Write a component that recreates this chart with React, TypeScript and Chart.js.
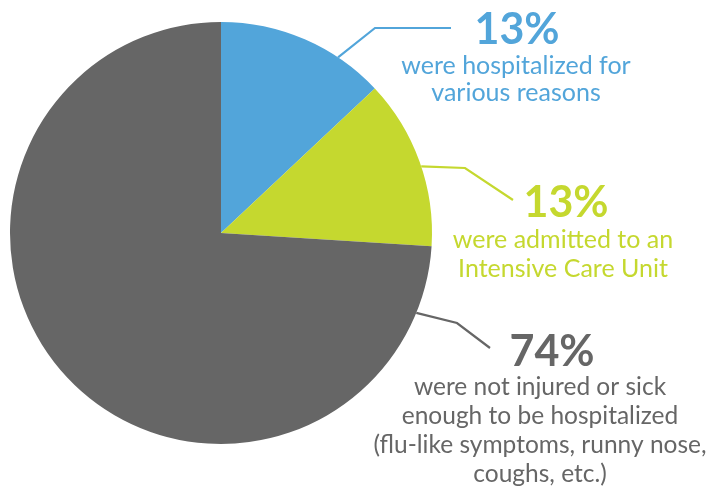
import React, { useEffect, useRef } from "react";
import { Chart, registerables } from "chart.js";

Chart.register(...registerables);

const categories = ["Hospitalized", "ICU", "Not hospitalized"];
const values = [13, 13, 74];
const colors = ["#52A5DA", "#C5D82F", "#666666"];
const percentLabels = ["13%", "13%", "74%"];
const descriptions = [
  ["were hospitalized for", "various reasons"],
  ["were admitted to an", "Intensive Care Unit"],
  ["were not injured or sick", "enough to be hospitalized", "(flu-like symptoms, runny nose,", "coughs, etc.)"],
];

// annotation layout (relative to pie centre, in px)
const anchorFrac = [0.72, 0.53, 0.07];
const elbowOffset = [
  [154, -205],
  [244, -65],
  [236, 90],
];
const lineEnd = [
  [230, -205],
  [292, -33],
  [269, 115],
];
const percentPos = [
  [296, -189],
  [345, -16],
  [331, 133],
];
const descCenterX = [295, 342, 319];
const descFontSize = [25, 25, 24.5];
const firstGap = [30, 31, 29];
const lineHeights = [27, 29, 29];

const labelPlugin = {
  id: "leaderLabels",
  afterDraw(chart: any) {
    const ctx = chart.ctx;
    const meta = chart.getDatasetMeta(0);
    meta.data.forEach((arc: any, i: number) => {
      const { x, y, startAngle, endAngle, outerRadius } = arc.getProps(
        ["x", "y", "startAngle", "endAngle", "outerRadius"],
        true
      );
      const a = startAngle + (endAngle - startAngle) * anchorFrac[i];
      const ax = x + Math.cos(a) * outerRadius;
      const ay = y + Math.sin(a) * outerRadius;
      ctx.save();
      ctx.strokeStyle = colors[i];
      ctx.lineWidth = 2.2;
      ctx.beginPath();
      ctx.moveTo(ax, ay);
      ctx.lineTo(x + elbowOffset[i][0], y + elbowOffset[i][1]);
      ctx.lineTo(x + lineEnd[i][0], y + lineEnd[i][1]);
      ctx.stroke();

      ctx.fillStyle = colors[i];
      ctx.textAlign = "center";
      ctx.textBaseline = "alphabetic";
      ctx.font = "bold 43px Lato";
      const py = y + percentPos[i][1];
      ctx.fillText(percentLabels[i], x + percentPos[i][0], py);
      ctx.font = `${descFontSize[i]}px Lato`;
      let by = py + firstGap[i];
      descriptions[i].forEach((line) => {
        ctx.fillText(line, x + descCenterX[i], by);
        by += lineHeights[i];
      });
      ctx.restore();
    });
  },
};

export default function App() {
  const ref = useRef<HTMLCanvasElement>(null);
  useEffect(() => {
    document.body.style.margin = "0";
    const chart = new Chart(ref.current!, {
      type: "pie",
      data: {
        labels: categories,
        datasets: [
          {
            data: values,
            backgroundColor: colors,
            borderWidth: 0,
          },
        ],
      },
      options: {
        animation: false,
        responsive: false,
        layout: { padding: { left: 10, top: 22, right: 277, bottom: 42 } },
        plugins: {
          legend: { display: false },
          tooltip: { enabled: false },
        },
      },
      plugins: [labelPlugin],
    });
    return () => chart.destroy();
  }, []);
  return (
    <div style={{ width: 709, height: 486, background: "#fff" }}>
      <canvas ref={ref} width={709} height={486} />
    </div>
  );
}
